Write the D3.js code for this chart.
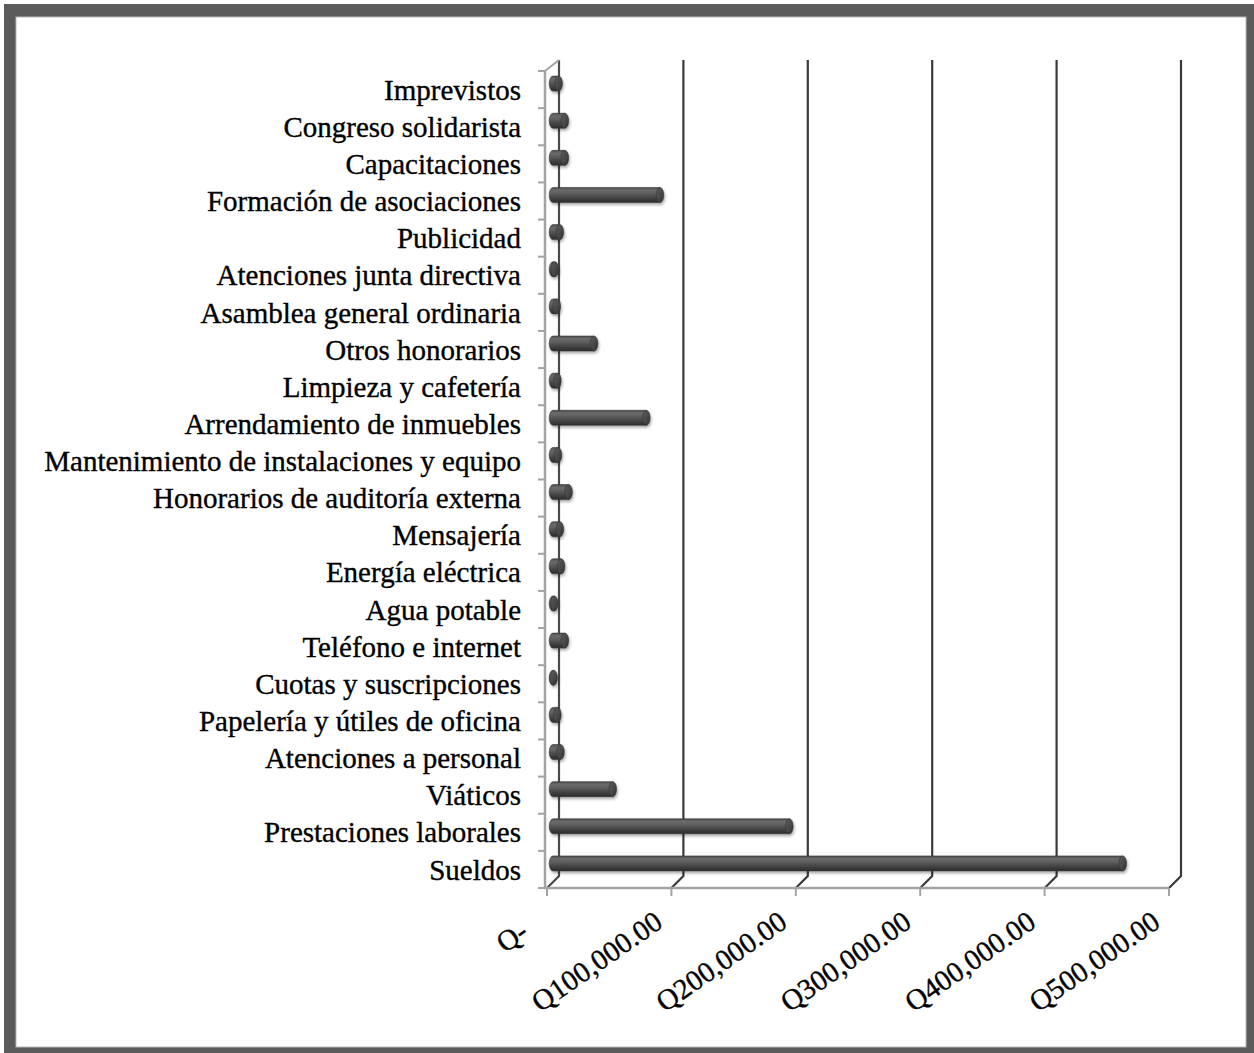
<!DOCTYPE html>
<html><head><meta charset="utf-8">
<script src="https://cdn.jsdelivr.net/npm/d3@7"></script>
<style>html,body{margin:0;padding:0;background:#fff;}svg{display:block;}</style>
</head><body>
<svg id="chart" width="1254" height="1053"></svg>
<script>
// ---- data (bottom to top, as in the chart) ----
const categories = [
  "Sueldos","Prestaciones laborales","Viáticos","Atenciones a personal",
  "Papelería y útiles de oficina","Cuotas y suscripciones","Teléfono e internet",
  "Agua potable","Energía eléctrica","Mensajería","Honorarios de auditoría externa",
  "Mantenimiento de instalaciones y equipo","Arrendamiento de inmuebles",
  "Limpieza y cafetería","Otros honorarios","Asamblea general ordinaria",
  "Atenciones junta directiva","Publicidad","Formación de asociaciones",
  "Capacitaciones","Congreso solidarista","Imprevistos"
];
const values = [
  458000,190000,48000,6000,
  3500,500,9500,
  1000,6500,5500,12500,
  4000,75000,
  3500,33000,3000,
  1500,5500,86000,
  9500,9500,4500
];
const tickValues = [0,100000,200000,300000,400000,500000];
const tickLabels = ["Q-","Q100,000.00","Q200,000.00","Q300,000.00","Q400,000.00","Q500,000.00"];

const svg = d3.select("#chart");
const W = 1254, H = 1053;

// frame
svg.append("rect").attr("x",4).attr("y",4).attr("width",W).attr("height",H).attr("fill","#5a5a5a");
svg.append("rect").attr("x",16).attr("y",17).attr("width",1230).attr("height",1030).attr("fill","#fff")
  .attr("stroke","#b8b8b8").attr("stroke-width",1);

// geometry
const depth = 12;           // 3D depth offset (dx right, dy up)
const half = depth/2;
const x = d3.scaleLinear().domain([0,500000]).range([547,1169]);
const y = d3.scaleBand().domain(categories).range([888,71]).padding(0);
const yTop = y.range()[1], yBot = y.range()[0];

const defs = svg.append("defs");
const g1 = defs.append("linearGradient").attr("id","cyl").attr("x1",0).attr("y1",0).attr("x2",0).attr("y2",1);
[[0,"#4a4a4a"],[0.18,"#6a6a6a"],[0.35,"#626262"],[0.65,"#484848"],[0.9,"#333333"],[1,"#2a2a2a"]]
  .forEach(([o,c])=>g1.append("stop").attr("offset",o).attr("stop-color",c));
const g2 = defs.append("linearGradient").attr("id","cap").attr("x1",0).attr("y1",0).attr("x2",1).attr("y2",1);
[[0,"#5e5e5e"],[0.6,"#454545"],[1,"#2e2e2e"]]
  .forEach(([o,c])=>g2.append("stop").attr("offset",o).attr("stop-color",c));
const f = defs.append("filter").attr("id","sh").attr("x","-10%").attr("y","-30%").attr("width","130%").attr("height","180%");
f.append("feGaussianBlur").attr("in","SourceAlpha").attr("stdDeviation",1.5).attr("result","b");
f.append("feOffset").attr("in","b").attr("dx",1).attr("dy",2).attr("result","o");
f.append("feComponentTransfer").attr("in","o").attr("result","o2")
  .append("feFuncA").attr("type","linear").attr("slope",0.35);
const fm = f.append("feMerge"); fm.append("feMergeNode").attr("in","o2"); fm.append("feMergeNode").attr("in","SourceGraphic");

// back wall gridlines (dark) with floor diagonals
const grid = svg.append("g");
tickValues.forEach(v=>{
  const xb = x(v)+depth;
  grid.append("path")
    .attr("d",`M${xb},${yTop-depth+1} L${xb},${yBot-depth} L${x(v)},${yBot}`)
    .attr("fill","none").attr("stroke", v===0 ? "#4a4a4a" : "#3a3a3a")
    .attr("stroke-width",2.2);
});

// left wall (light gray) and front floor edge
const axisCol = "#a3a3a3";
svg.append("path").attr("d",`M${x(0)-2},${yTop} L${x(0)-2},${yBot} `)
  .attr("stroke",axisCol).attr("stroke-width",2.5).attr("fill","none");
svg.append("path").attr("d",`M${x(0)-2},${yTop} L${x(0)+depth},${yTop-depth+1}`)
  .attr("stroke",axisCol).attr("stroke-width",2).attr("fill","none");
svg.append("path").attr("d",`M${x(0)-3},${yBot} L${x(500000)},${yBot}`)
  .attr("stroke",axisCol).attr("stroke-width",2.5).attr("fill","none");
// y ticks on left wall
const yEdges = categories.map(c=>y(c)).concat([yBot]);
svg.append("g").selectAll("line").data(yEdges).join("line")
  .attr("x1",x(0)-9).attr("x2",x(0)-2).attr("y1",d=>d).attr("y2",d=>d)
  .attr("stroke",axisCol).attr("stroke-width",2);
// x ticks below floor
svg.append("g").selectAll("line").data(tickValues).join("line")
  .attr("x1",d=>x(d)).attr("x2",d=>x(d)).attr("y1",yBot).attr("y2",yBot+8)
  .attr("stroke",axisCol).attr("stroke-width",2);

// bars (cylinders)
const ry = 7.5, rx = 3.8;
const bars = svg.append("g").attr("filter","url(#sh)");
categories.forEach((c,i)=>{
  const cy = y(c)+y.bandwidth()/2 - half;
  const x0 = x(0)+half, x1 = x(values[i])+half;
  bars.append("path")
    .attr("d",`M${x1},${cy-ry} L${x0},${cy-ry} A${rx},${ry} 0 0 0 ${x0},${cy+ry} L${x1},${cy+ry} Z`)
    .attr("fill","url(#cyl)").attr("stroke","#3a3a3a").attr("stroke-width",0.6);
  bars.append("ellipse").attr("cx",x1).attr("cy",cy).attr("rx",rx).attr("ry",ry)
    .attr("fill","url(#cap)").attr("stroke","#333").attr("stroke-width",0.6);
});

// category labels
const font = "'Liberation Serif','Times New Roman',serif";
svg.append("g").selectAll("text").data(categories).join("text")
  .attr("x",521).attr("y",d=>y(d)+y.bandwidth()/2)
  .attr("dy","0.35em").attr("text-anchor","end")
  .attr("font-family",font).attr("font-size",29).attr("fill","#000")
  .attr("stroke","#000").attr("stroke-width",0.35)
  .text(d=>d);

// x tick labels rotated
svg.append("g").selectAll("text").data(tickValues).join("text")
  .attr("transform",d=>d===0
      ? `translate(${x(d)-17},${yBot+48}) rotate(-35)`
      : `translate(${x(d)-7},${yBot+38}) rotate(-35)`)
  .attr("text-anchor","end")
  .attr("font-family",font).attr("font-size",29).attr("fill","#000")
  .attr("stroke","#000").attr("stroke-width",0.35)
  .text((d,i)=>tickLabels[i]);
</script>
</body></html>
